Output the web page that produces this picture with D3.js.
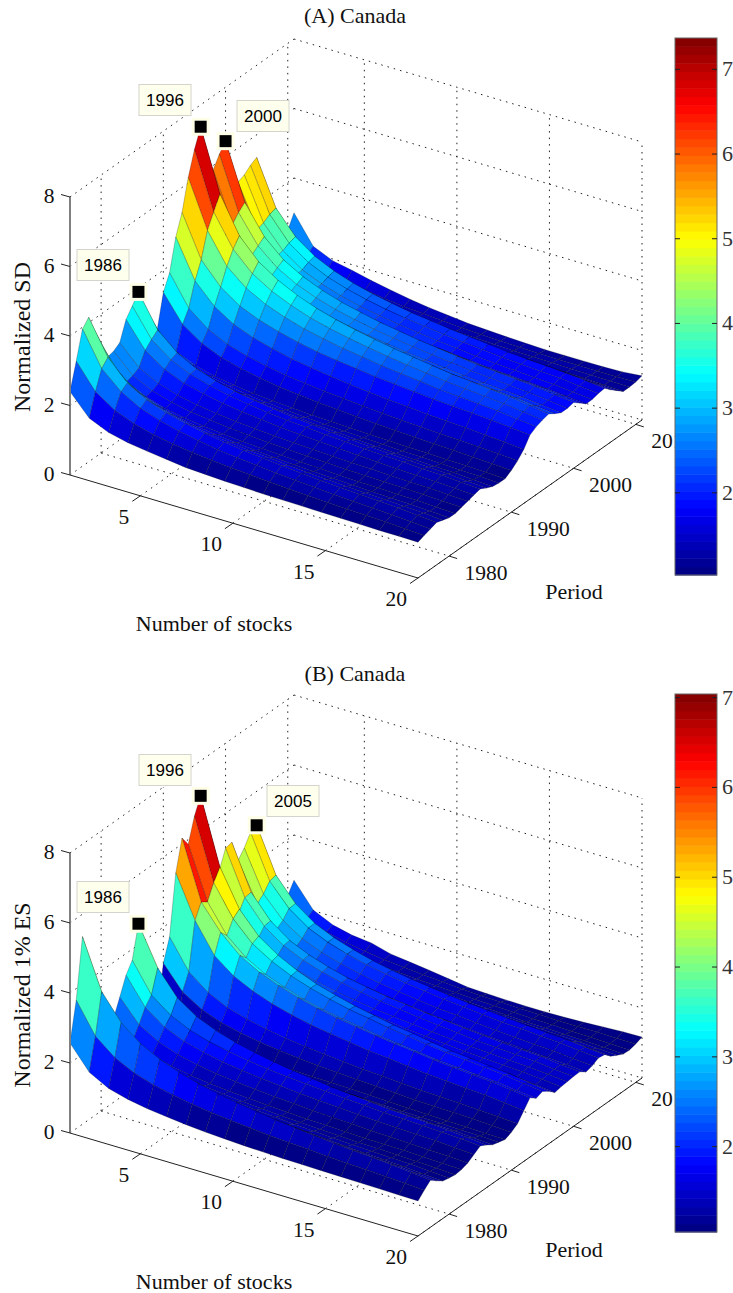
<!DOCTYPE html>
<html>
<head>
<meta charset="utf-8">
<script src="https://cdn.jsdelivr.net/npm/d3@7"></script>
<style>
  html, body { margin: 0; padding: 0; background: white; }
  svg { display: block; }
</style>
</head>
<body>
<script>
// values
const stocks = [1.2,2.24,3.29,4.33,5.38,6.42,7.47,8.51,9.56,10.6,11.64,12.69,13.73,14.78,15.82,16.87,17.91,18.96,20];
const years = [1975,1976,1977,1978,1979,1980,1981,1982,1983,1984,1985,1986,1987,1988,1989,1990,1991,1992,1993,1994,1995,1996,1997,1998,1999,2000,2001,2002,2003,2004,2005,2006,2007,2008,2009,2010,2011];

const stockTicks = [5,10,15,20];
const yearTicks = [1980,1990,2000,2010];
const zTicks = [0,2,4,6,8];

const sdTicks = [2,3,4,5,6,7];
const esTicks = [2,3,4,5,6,7];
const sdRange = [1.03,7.37];
const esRange = [1.05,7.04];
const sdTips = [1986,1996,2000];
const esTips = [1986,1996,2005];

// one row per year, one column per stock count
const sdValues = [
[2.4,1.8,1.55,1.42,1.34,1.27,1.2,1.17,1.14,1.12,1.1,1.09,1.08,1.07,1.06,1.05,1.04,1.04,1.03],
[3.15,2.43,2.06,1.84,1.69,1.59,1.51,1.45,1.40,1.36,1.32,1.28,1.25,1.22,1.20,1.18,1.16,1.13,1.1],
[3.95,2.97,2.47,2.16,1.97,1.83,1.72,1.63,1.56,1.51,1.45,1.41,1.37,1.33,1.30,1.27,1.24,1.20,1.16],
[4.16,3.17,2.6,2.28,2.07,1.93,1.81,1.72,1.65,1.59,1.53,1.48,1.44,1.40,1.37,1.34,1.31,1.26,1.22],
[3.63,2.77,2.32,2.05,1.88,1.75,1.65,1.58,1.52,1.47,1.42,1.38,1.35,1.31,1.28,1.26,1.23,1.20,1.16],
[3.13,2.42,2.05,1.83,1.69,1.59,1.51,1.45,1.39,1.35,1.31,1.28,1.25,1.22,1.2,1.18,1.16,1.13,1.1],
[2.63,2.09,1.82,1.65,1.54,1.47,1.41,1.36,1.32,1.29,1.26,1.24,1.21,1.19,1.18,1.16,1.15,1.12,1.1],
[2.68,2.14,1.87,1.70,1.59,1.52,1.46,1.41,1.37,1.34,1.31,1.29,1.26,1.24,1.23,1.21,1.20,1.17,1.15],
[2.8,2.24,1.95,1.78,1.66,1.58,1.52,1.47,1.43,1.40,1.37,1.34,1.32,1.3,1.28,1.26,1.25,1.22,1.2],
[3.34,2.61,2.23,2.0,1.86,1.75,1.67,1.61,1.55,1.51,1.47,1.44,1.41,1.38,1.35,1.33,1.31,1.28,1.25],
[3.6,2.8,2.38,2.13,1.97,1.85,1.76,1.69,1.63,1.59,1.54,1.51,1.47,1.44,1.42,1.39,1.37,1.33,1.3],
[3.88,2.95,2.46,2.16,1.98,1.84,1.74,1.66,1.59,1.54,1.48,1.44,1.40,1.36,1.33,1.31,1.28,1.24,1.2],
[3.3,2.54,2.14,1.90,1.75,1.64,1.56,1.49,1.44,1.39,1.35,1.32,1.28,1.25,1.23,1.21,1.19,1.15,1.12],
[2.8,2.2,1.89,1.71,1.59,1.5,1.43,1.38,1.34,1.30,1.27,1.24,1.22,1.19,1.18,1.16,1.14,1.12,1.09],
[2.4,1.94,1.71,1.56,1.47,1.40,1.35,1.31,1.28,1.25,1.23,1.21,1.19,1.17,1.16,1.14,1.13,1.11,1.09],
[3.36,2.6,2.22,1.98,1.83,1.72,1.63,1.57,1.51,1.47,1.43,1.39,1.36,1.33,1.31,1.29,1.26,1.23,1.2],
[3.8,2.94,2.5,2.23,2.06,1.94,1.84,1.77,1.71,1.66,1.61,1.57,1.53,1.5,1.47,1.45,1.42,1.39,1.35],
[4.7,3.6,3.03,2.68,2.46,2.31,2.18,2.09,2.01,1.94,1.88,1.83,1.79,1.74,1.71,1.68,1.64,1.6,1.55],
[5.28,4.08,3.46,3.08,2.84,2.67,2.53,2.42,2.34,2.27,2.2,2.15,2.10,2.05,2.01,1.98,1.94,1.89,1.84],
[6.16,4.8,3.93,3.47,3.17,2.96,2.79,2.67,2.56,2.48,2.39,2.33,2.27,2.2,2.16,2.12,2.08,2.01,1.95],
[6.84,5.2,4.3,3.76,3.42,3.18,2.98,2.84,2.72,2.62,2.53,2.45,2.38,2.31,2.26,2.21,2.16,2.09,2.02],
[7.37,5.6,4.56,3.98,3.61,3.34,3.13,2.97,2.84,2.73,2.63,2.55,2.47,2.39,2.34,2.28,2.23,2.15,2.07],
[5.9,4.52,3.81,3.37,3.10,2.90,2.74,2.62,2.52,2.44,2.36,2.31,2.25,2.19,2.15,2.11,2.07,2.01,1.95],
[5.87,4.46,3.74,3.3,3.02,2.81,2.65,2.53,2.43,2.35,2.27,2.21,2.15,2.09,2.05,2.01,1.97,1.91,1.85],
[6.2,4.68,3.89,3.42,3.11,2.89,2.72,2.59,2.48,2.39,2.31,2.24,2.18,2.11,2.07,2.02,1.98,1.92,1.85],
[6.45,4.85,4.03,3.53,3.21,2.98,2.8,2.67,2.55,2.46,2.37,2.3,2.23,2.16,2.12,2.07,2.03,1.96,1.89],
[5.6,4.25,3.56,3.14,2.87,2.67,2.52,2.4,2.31,2.23,2.15,2.10,2.04,1.98,1.94,1.9,1.87,1.81,1.75],
[5.02,3.82,3.21,2.83,2.59,2.42,2.28,2.18,2.1,2.03,1.96,1.91,1.86,1.81,1.77,1.74,1.7,1.65,1.6],
[5.1,3.88,3.25,2.86,2.62,2.44,2.3,2.2,2.11,2.04,1.97,1.92,1.86,1.81,1.78,1.74,1.71,1.65,1.6],
[5.25,4.0,3.34,2.95,2.69,2.51,2.37,2.26,2.17,2.1,2.03,1.97,1.92,1.87,1.83,1.79,1.76,1.7,1.65],
[5.35,4.06,3.4,3.0,2.74,2.55,2.41,2.3,2.2,2.13,2.06,2.0,1.95,1.89,1.85,1.82,1.78,1.73,1.67],
[4.4,3.39,2.86,2.54,2.34,2.2,2.08,1.99,1.92,1.86,1.8,1.76,1.72,1.67,1.65,1.62,1.59,1.54,1.5],
[3.4,2.68,2.31,2.09,1.94,1.84,1.76,1.7,1.65,1.61,1.57,1.53,1.5,1.47,1.45,1.43,1.41,1.38,1.35],
[2.7,2.18,1.91,1.74,1.64,1.56,1.5,1.46,1.42,1.39,1.36,1.34,1.31,1.29,1.28,1.26,1.25,1.22,1.2],
[2.5,2.0,1.78,1.62,1.53,1.46,1.42,1.38,1.35,1.32,1.3,1.28,1.26,1.25,1.24,1.23,1.22,1.21,1.2],
[2.62,2.05,1.8,1.65,1.56,1.48,1.42,1.38,1.34,1.3,1.27,1.25,1.23,1.22,1.21,1.21,1.21,1.21,1.22],
[3.0,2.2,1.95,1.84,1.71,1.6,1.5,1.42,1.36,1.3,1.27,1.24,1.22,1.2,1.2,1.2,1.2,1.22,1.27]
];

const esValues = [
[2.57,1.9,1.6,1.45,1.35,1.28,1.22,1.17,1.14,1.11,1.09,1.07,1.06,1.05,1.04,1.03,1.02,1.01,1.0],
[3.67,2.8,2.35,2.08,1.90,1.78,1.68,1.60,1.54,1.49,1.44,1.40,1.37,1.33,1.30,1.28,1.25,1.22,1.18],
[5.36,3.95,3.23,2.79,2.51,2.30,2.14,2.02,1.92,1.84,1.76,1.70,1.64,1.58,1.54,1.50,1.46,1.40,1.34],
[4.5,3.35,2.75,2.39,2.16,1.99,1.86,1.76,1.68,1.61,1.55,1.50,1.45,1.40,1.37,1.33,1.30,1.25,1.2],
[3.9,2.91,2.4,2.09,1.89,1.75,1.64,1.55,1.48,1.42,1.37,1.32,1.28,1.24,1.21,1.18,1.15,1.11,1.07],
[3.2,2.44,2.05,1.81,1.66,1.55,1.46,1.40,1.34,1.30,1.26,1.23,1.19,1.16,1.14,1.12,1.10,1.06,1.03],
[2.7,2.11,1.8,1.61,1.49,1.41,1.34,1.29,1.25,1.21,1.18,1.15,1.13,1.1,1.09,1.07,1.05,1.03,1.0],
[2.4,1.92,1.67,1.52,1.42,1.35,1.30,1.25,1.22,1.19,1.16,1.14,1.12,1.10,1.09,1.08,1.06,1.04,1.02],
[2.88,2.25,1.93,1.73,1.60,1.51,1.44,1.39,1.34,1.31,1.27,1.24,1.22,1.19,1.17,1.15,1.13,1.11,1.08],
[3.38,2.62,2.22,1.98,1.83,1.72,1.64,1.57,1.52,1.47,1.43,1.40,1.36,1.33,1.31,1.29,1.27,1.23,1.2],
[3.68,2.85,2.43,2.17,2.0,1.89,1.79,1.72,1.66,1.62,1.57,1.53,1.5,1.46,1.44,1.41,1.39,1.36,1.32],
[4.6,3.5,2.81,2.44,2.2,2.03,1.90,1.79,1.71,1.64,1.57,1.52,1.47,1.42,1.39,1.36,1.32,1.27,1.22],
[3.6,2.72,2.28,2.0,1.83,1.7,1.6,1.53,1.46,1.41,1.36,1.33,1.29,1.25,1.23,1.2,1.18,1.14,1.1],
[2.2,1.8,1.59,1.46,1.38,1.33,1.28,1.25,1.22,1.19,1.17,1.15,1.14,1.12,1.11,1.10,1.08,1.07,1.05],
[1.5,1.38,1.32,1.28,1.25,1.23,1.21,1.19,1.17,1.16,1.14,1.12,1.1,1.08,1.06,1.04,1.03,1.01,1.0],
[2.97,2.31,1.97,1.76,1.63,1.53,1.46,1.40,1.35,1.32,1.28,1.25,1.22,1.19,1.17,1.16,1.14,1.11,1.08],
[3.6,2.76,2.33,2.06,1.9,1.78,1.68,1.61,1.55,1.5,1.45,1.42,1.38,1.34,1.32,1.3,1.27,1.24,1.2],
[5.3,4.1,3.26,2.84,2.57,2.37,2.22,2.1,2.01,1.93,1.85,1.8,1.74,1.68,1.64,1.6,1.57,1.51,1.45],
[6.17,4.5,3.8,3.3,2.99,2.77,2.59,2.45,2.34,2.25,2.16,2.09,2.03,1.96,1.91,1.87,1.82,1.76,1.69],
[5.87,4.38,3.58,3.11,2.8,2.59,2.41,2.28,2.18,2.09,2.0,1.94,1.87,1.81,1.77,1.72,1.68,1.61,1.55],
[6.55,4.8,3.94,3.39,3.05,2.8,2.61,2.46,2.33,2.24,2.14,2.06,1.99,1.92,1.87,1.82,1.77,1.69,1.62],
[7.0,5.13,4.09,3.48,3.1,2.82,2.6,2.44,2.3,2.19,2.08,2.0,1.91,1.83,1.78,1.72,1.67,1.58,1.5],
[5.2,3.85,3.15,2.73,2.46,2.27,2.11,1.98,1.9,1.82,1.75,1.69,1.63,1.57,1.53,1.49,1.46,1.4,1.34],
[4.7,3.54,2.94,2.58,2.34,2.18,2.04,1.94,1.86,1.80,1.73,1.68,1.63,1.58,1.55,1.51,1.48,1.43,1.38],
[4.5,3.42,2.86,2.52,2.3,2.14,2.02,1.93,1.85,1.79,1.73,1.68,1.63,1.59,1.56,1.52,1.49,1.45,1.4],
[5.0,3.75,3.1,2.71,2.46,2.28,2.14,2.03,1.94,1.87,1.8,1.74,1.69,1.63,1.6,1.56,1.53,1.47,1.42],
[5.05,3.78,3.13,2.73,2.48,2.3,2.15,2.05,1.95,1.88,1.81,1.76,1.7,1.65,1.61,1.57,1.54,1.48,1.43],
[4.4,3.32,2.76,2.42,2.2,2.04,1.92,1.83,1.75,1.69,1.63,1.58,1.53,1.49,1.46,1.42,1.39,1.35,1.3],
[4.63,3.48,2.89,2.53,2.3,2.14,2.01,1.91,1.83,1.76,1.69,1.65,1.6,1.55,1.51,1.48,1.45,1.4,1.35],
[4.95,3.72,3.1,2.71,2.47,2.29,2.15,2.05,1.96,1.89,1.82,1.77,1.71,1.66,1.63,1.59,1.56,1.5,1.45],
[5.03,3.77,3.12,2.72,2.47,2.29,2.14,2.03,1.94,1.87,1.8,1.74,1.69,1.64,1.6,1.56,1.53,1.47,1.42],
[4.1,3.1,2.59,2.28,2.08,1.93,1.82,1.73,1.66,1.61,1.55,1.51,1.46,1.42,1.39,1.36,1.34,1.29,1.25],
[3.4,2.61,2.21,1.96,1.8,1.69,1.6,1.53,1.48,1.43,1.39,1.35,1.32,1.29,1.26,1.24,1.22,1.18,1.15],
[2.8,2.19,1.88,1.69,1.56,1.48,1.41,1.36,1.31,1.28,1.24,1.22,1.19,1.16,1.15,1.13,1.11,1.09,1.06],
[2.4,1.93,1.68,1.53,1.44,1.37,1.32,1.28,1.25,1.22,1.19,1.17,1.15,1.13,1.12,1.10,1.09,1.07,1.05],
[2.4,1.9,1.68,1.55,1.46,1.38,1.33,1.28,1.24,1.2,1.17,1.15,1.13,1.12,1.11,1.11,1.11,1.1,1.1],
[2.71,2.02,1.76,1.63,1.57,1.42,1.35,1.28,1.2,1.12,1.1,1.08,1.07,1.07,1.08,1.1,1.13,1.16,1.17]
];

// matlab jet, 64 steps
const jet = d3.scaleLinear()
  .domain([0, 1/8, 3/8, 5/8, 7/8, 1])
  .range(["#00007f", "#0000ff", "#00ffff", "#ffff00", "#ff0000", "#7f0000"]);
const jetColors = d3.range(64).map(i => jet((i + 0.5) / 64));

const serif = "'Liberation Serif', 'Times New Roman', serif";
const sans = "'Liberation Sans', Arial, sans-serif";

const svg = d3.select("body").append("svg")
  .attr("width", 733)
  .attr("height", 1293);

function drawPanel(p) {
  const g = svg.append("g");

  // oblique view: each data axis adds its own screen x and y
  const nX = d3.scaleLinear().domain([1.2, 20]).range([0, 348]);
  const nY = d3.scaleLinear().domain([1.2, 20]).range([0, 103]);
  const yrX = d3.scaleLinear().domain([1975, 2011]).range([0, 224]);
  const yrY = d3.scaleLinear().domain([1975, 2011]).range([0, -158]);
  const zY = d3.scaleLinear().domain([0, 8]).range([0, -p.zLength]);
  const px = (n, yr) => p.x0 + nX(n) + yrX(yr);
  const py = (n, yr, z) => p.y0 + nY(n) + yrY(yr) + zY(z);
  const line3d = d3.line().x(d => px(d[0], d[1])).y(d => py(d[0], d[1], d[2]));

  const nMin = 1.2, nMax = 20, yrMin = 1975, yrMax = 2011, zMax = 8;

  const color = d3.scaleQuantize().domain(p.range).range(jetColors);

  // dotted grid on the two walls and the floor
  const grid = [];
  zTicks.forEach(z => {
    grid.push([[nMin, yrMin, z], [nMin, yrMax, z]]);
    grid.push([[nMin, yrMax, z], [nMax, yrMax, z]]);
  });
  yearTicks.forEach(yr => {
    grid.push([[nMin, yr, 0], [nMin, yr, zMax]]);
    grid.push([[nMin, yr, 0], [nMax, yr, 0]]);
  });
  stockTicks.forEach(n => {
    grid.push([[n, yrMax, 0], [n, yrMax, zMax]]);
    grid.push([[n, yrMin, 0], [n, yrMax, 0]]);
  });
  g.selectAll(".grid").data(grid).join("path")
    .attr("class", "grid")
    .attr("d", line3d)
    .attr("fill", "none")
    .attr("stroke", "#222")
    .attr("stroke-width", 1)
    .attr("stroke-dasharray", "1.5 5");

  // surface cells, far ones first
  const cells = [];
  for (let r = years.length - 2; r >= 0; r--) {
    for (let c = 0; c < stocks.length - 1; c++) {
      cells.push({
        value: p.values[r][c],
        pts: [
          [stocks[c], years[r], p.values[r][c]],
          [stocks[c + 1], years[r], p.values[r][c + 1]],
          [stocks[c + 1], years[r + 1], p.values[r + 1][c + 1]],
          [stocks[c], years[r + 1], p.values[r + 1][c]],
          [stocks[c], years[r], p.values[r][c]]
        ]
      });
    }
  }
  g.selectAll(".cell").data(cells).join("path")
    .attr("class", "cell")
    .attr("d", d => line3d(d.pts))
    .attr("fill", d => color(d.value))
    .attr("stroke", "#000")
    .attr("stroke-opacity", 0.45)
    .attr("stroke-width", 0.5)
    .attr("stroke-linejoin", "round");

  // axes
  const axes = [
    {pts: [[nMin, yrMin, 0], [nMin, yrMin, zMax]], col: "#808080", w: 2},
    {pts: [[nMin, yrMin, 0], [nMax, yrMin, 0]], col: "#222", w: 1},
    {pts: [[nMax, yrMin, 0], [nMax, yrMax, 0]], col: "#222", w: 1}
  ];
  g.selectAll(".axis").data(axes).join("path")
    .attr("class", "axis")
    .attr("d", d => line3d(d.pts))
    .attr("fill", "none")
    .attr("stroke", d => d.col)
    .attr("stroke-width", d => d.w);

  const ticks = [];
  zTicks.forEach(z => ticks.push({x: px(nMin, yrMin), y: py(nMin, yrMin, z), dx: -9, dy: -2.5}));
  stockTicks.forEach(n => ticks.push({x: px(n, yrMin), y: py(n, yrMin, 0), dx: -8, dy: 5.5}));
  yearTicks.forEach(yr => ticks.push({x: px(nMax, yr), y: py(nMax, yr, 0), dx: 8, dy: 2.5}));
  g.selectAll(".tick").data(ticks).join("line")
    .attr("class", "tick")
    .attr("x1", d => d.x).attr("y1", d => d.y)
    .attr("x2", d => d.x + d.dx).attr("y2", d => d.y + d.dy)
    .attr("stroke", "#222");

  const label = (x, y, s, size, anchor) => g.append("text")
    .attr("x", x).attr("y", y)
    .attr("text-anchor", anchor || "middle")
    .attr("font-family", serif)
    .attr("font-size", (size || 21.5) + "px")
    .attr("fill", "#111")
    .text(s);

  zTicks.forEach(z => label(p.x0 - 21, py(nMin, yrMin, z) + 6, z));
  stockTicks.forEach(n => label(px(n, yrMin) - 11, py(n, yrMin, 0) + 28, n, 21.5, "end"));
  yearTicks.forEach(yr => label(px(nMax, yr) + 37, py(nMax, yr, 0) + 24, yr));

  label(355, p.titleY, p.title, 22);
  label(214, p.y0 + 156, "Number of stocks", 22);
  label(574, p.y0 + 124, "Period", 22);
  g.append("text")
    .attr("transform", `translate(30,${p.yLabelY}) rotate(-90)`)
    .attr("text-anchor", "middle")
    .attr("font-family", serif)
    .attr("font-size", "24px")
    .attr("fill", "#111")
    .text(p.yLabel);

  // colour bar, over the clipped 2010 label
  const barX = 675, barW = 42;
  const barY = d3.scaleLinear().domain(p.range).range([p.barBottom, p.barTop]);
  const step = (p.range[1] - p.range[0]) / 64;
  g.selectAll(".swatch").data(jetColors).join("rect")
    .attr("class", "swatch")
    .attr("x", barX)
    .attr("y", (d, i) => barY(p.range[0] + (i + 1) * step))
    .attr("width", barW)
    .attr("height", (d, i) => barY(p.range[0] + i * step) - barY(p.range[0] + (i + 1) * step) + 0.5)
    .attr("fill", d => d);
  g.append("rect")
    .attr("x", barX).attr("y", p.barTop)
    .attr("width", barW).attr("height", p.barBottom - p.barTop)
    .attr("fill", "none").attr("stroke", "#666");
  p.barTicks.forEach(t => {
    g.append("line").attr("x1", barX).attr("x2", barX + 5).attr("y1", barY(t)).attr("y2", barY(t)).attr("stroke", "#222");
    g.append("line").attr("x1", barX + barW - 5).attr("x2", barX + barW).attr("y1", barY(t)).attr("y2", barY(t)).attr("stroke", "#222");
    g.append("text")
      .attr("x", 722).attr("y", barY(t) + 7)
      .attr("font-family", serif).attr("font-size", "22px").attr("fill", "#333")
      .text(t);
  });

  // data tips
  p.tips.forEach((yr, i) => {
    const z = p.values[years.indexOf(yr)][0];
    const mx = px(stocks[0], yr), my = py(stocks[0], yr, z);
    const box = p.tipBoxes[i];
    g.append("rect")
      .attr("x", mx - 9).attr("y", my - 9).attr("width", 18).attr("height", 18)
      .attr("fill", "#ffffe8");
    g.append("rect")
      .attr("x", mx - 6).attr("y", my - 6).attr("width", 12).attr("height", 12)
      .attr("fill", "black");
    g.append("rect")
      .attr("x", box[0]).attr("y", box[1]).attr("width", 52).attr("height", 31)
      .attr("fill", "#ffffee").attr("stroke", "#d4d4cc");
    g.append("text")
      .attr("x", box[0] + 26).attr("y", box[1] + 21.5)
      .attr("text-anchor", "middle")
      .attr("font-family", sans).attr("font-size", "17px").attr("fill", "black")
      .text(yr);
  });
}

drawPanel({
  values: sdValues, range: sdRange, barTicks: sdTicks, tips: sdTips,
  tipBoxes: [[77, 249.5], [139, 84.5], [237, 100.5]],
  x0: 70, y0: 475, zLength: 278,
  title: "(A) Canada", titleY: 23, yLabel: "Normalized SD", yLabelY: 337,
  barTop: 38, barBottom: 575
});

drawPanel({
  values: esValues, range: esRange, barTicks: esTicks, tips: esTips,
  tipBoxes: [[77, 881.5], [139, 754.5], [267, 785.5]],
  x0: 70, y0: 1133, zLength: 280,
  title: "(B) Canada", titleY: 681, yLabel: "Normalized 1% ES", yLabelY: 995,
  barTop: 694, barBottom: 1232
});
</script>
</body>
</html>
